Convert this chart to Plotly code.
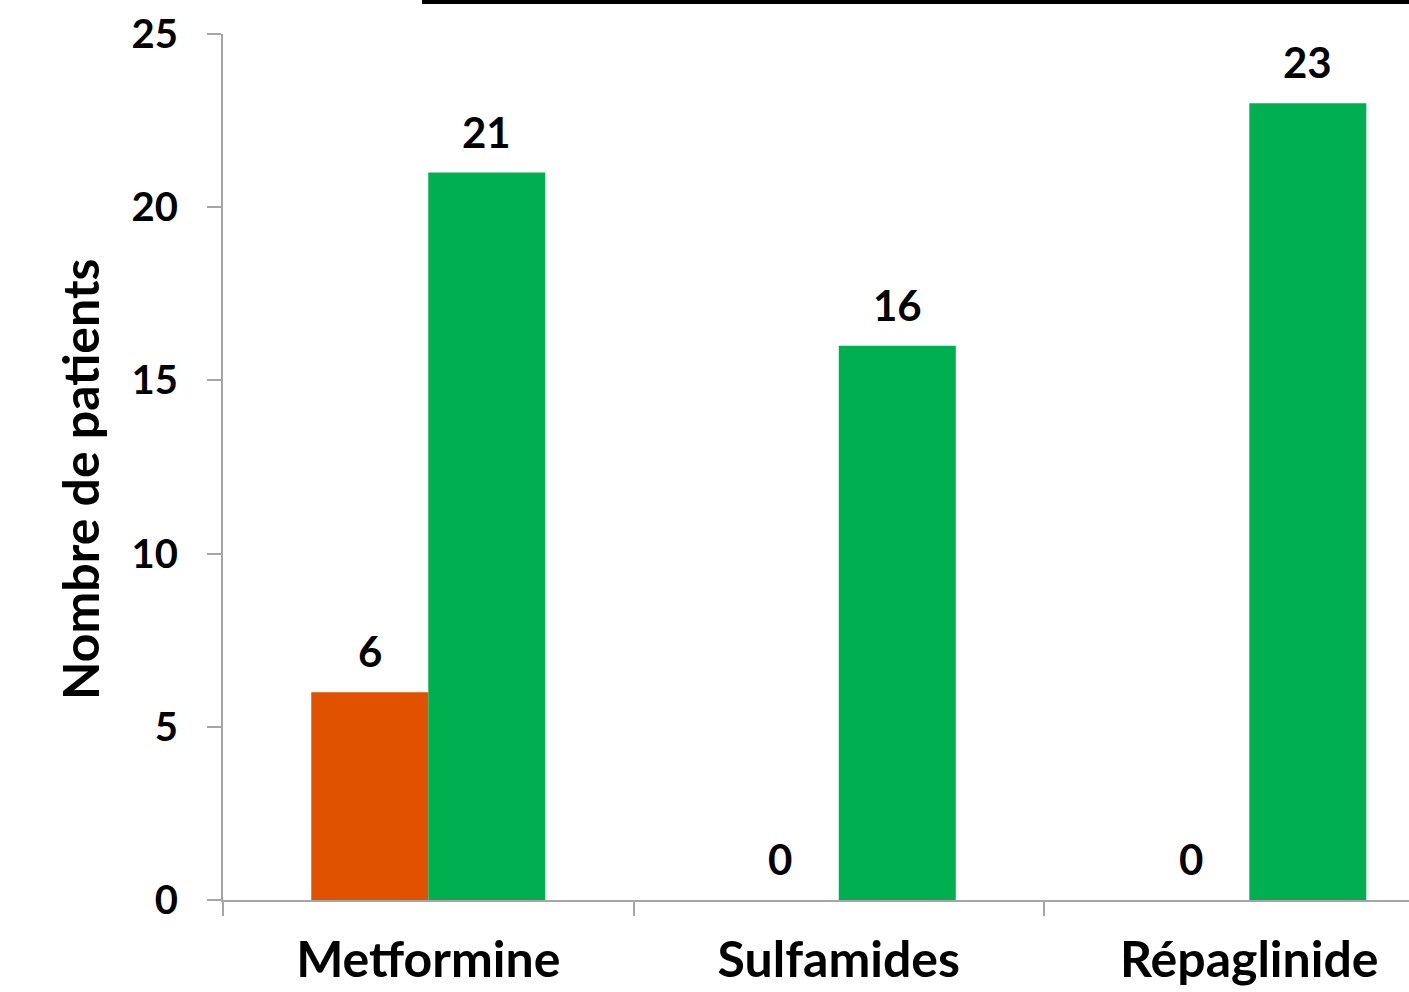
import plotly.graph_objects as go

# Patient counts per drug class, two series
categories = ["Metformine", "Sulfamides", "Répaglinide"]
serie_1 = [6, 0, 0]
serie_2 = [21, 16, 23]
y_ticks = [0, 5, 10, 15, 20, 25]

ORANGE = "#E05200"
GREEN = "#00B050"
AXIS_GREY = "#A6A6A6"
FONT = "Lato"

W, H = 1409, 992
ML, MR, MT, MB = 223, 0, 34, 92
plot_w = W - ML - MR
plot_h = H - MT - MB

x_range = [-0.5, 2.389]
cat_px = plot_w / (x_range[1] - x_range[0])
bargap = 0.43
bar_px = cat_px * (1 - bargap) / 2

fig = go.Figure()
fig.add_trace(go.Bar(x=categories, y=serie_1, name="Série 1",
                     marker=dict(color=ORANGE, line=dict(width=0))))
fig.add_trace(go.Bar(x=categories, y=serie_2, name="Série 2",
                     marker=dict(color=GREEN, line=dict(width=0))))

# value labels above each bar
annotations = []
for values, shift in ((serie_1, -bar_px / 2), (serie_2, bar_px / 2)):
    for cat, v in zip(categories, values):
        annotations.append(dict(
            x=cat, y=v, xref="x", yref="y", text=str(v), showarrow=False,
            xshift=shift, yanchor="bottom", yshift=14,
            font=dict(family=FONT, size=42, color="black", weight="bold"),
        ))

# y axis title
annotations.append(dict(
    x=(80 - ML) / plot_w, y=(MT + plot_h - 480) / plot_h, xref="paper", yref="paper",
    xanchor="center", yanchor="middle",
    text="Nombre de patients", textangle=-90, showarrow=False,
    font=dict(family=FONT, size=50, color="black", weight="bold"),
))

fig.update_layout(
    width=W, height=H,
    margin=dict(l=ML, r=MR, t=MT, b=MB, pad=0, autoexpand=False),
    paper_bgcolor="white", plot_bgcolor="white",
    barmode="group", bargap=bargap, bargroupgap=0,
    showlegend=False,
    annotations=annotations,
    shapes=[dict(type="rect", xref="paper", yref="paper",
                 x0=(422 - ML) / plot_w, x1=1.0,
                 y0=(MT + plot_h - 4) / plot_h, y1=(MT + plot_h + 2) / plot_h,
                 fillcolor="black", line=dict(width=0), layer="above")],
)

fig.update_xaxes(
    range=x_range, type="category", automargin=False,
    showline=True, linecolor=AXIS_GREY, linewidth=2,
    ticks="outside", tickson="boundaries", ticklen=14, tickwidth=2, tickcolor=AXIS_GREY,
    ticklabelstandoff=15,
    tickfont=dict(family=FONT, size=50, color="black", weight="bold"),
    showgrid=False, zeroline=False,
)
fig.update_yaxes(
    range=[0, 25], tickvals=y_ticks, automargin=False,
    showline=True, linecolor=AXIS_GREY, linewidth=2,
    ticks="outside", ticklen=14, tickwidth=2, tickcolor=AXIS_GREY,
    ticklabelstandoff=21,
    tickfont=dict(family=FONT, size=40, color="black", weight="bold"),
    showgrid=False, zeroline=False,
)

fig.write_html("out.html")
